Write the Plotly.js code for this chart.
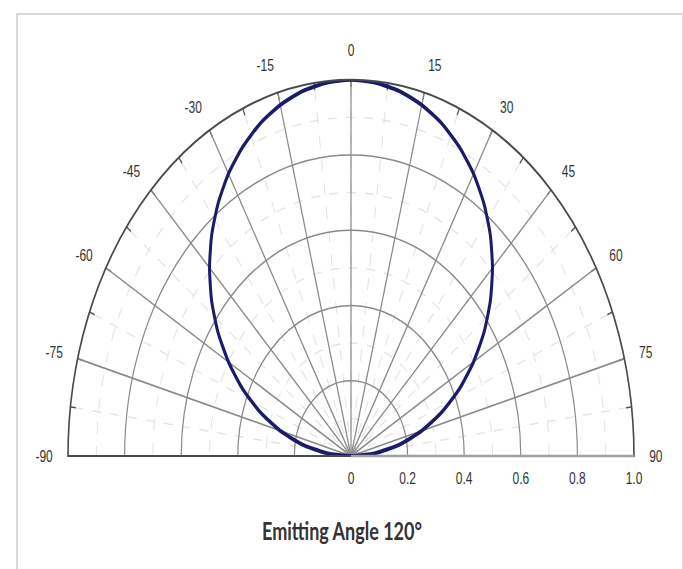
<!DOCTYPE html>
<html>
<head>
<meta charset="utf-8">
<script src="https://cdn.plot.ly/plotly-3.0.1.min.js"></script>
<style>
  html, body { margin:0; padding:0; background:#ffffff; overflow:hidden; width:683px; height:569px; }
  #wrap { position:absolute; left:0; top:0; width:683px; height:428px; transform:scaleY(1.3294); transform-origin:0 0; }
  #plot { width:683px; height:428px; }
  #frame { position:absolute; left:16px; top:13px; width:664px; height:570px; border:2px solid #d9d9d9; pointer-events:none; }
</style>
</head>
<body>
<div id="wrap"><div id="plot"></div></div>
<div id="frame"></div>
<script>
// Emission angle (degrees) and relative intensity
const emitAngle = [-90,-85,-80,-75,-70,-65,-60,-55,-50,-45,-40,-35,-30,-25,-20,-15,-10,-5,0,
                   5,10,15,20,25,30,35,40,45,50,55,60,65,70,75,80,85,90];
const relIntensity = [0,0.087,0.174,0.259,0.342,0.423,0.5,0.574,0.643,0.707,0.766,0.819,0.866,0.906,0.94,0.966,0.985,0.996,1.0,
                      0.996,0.985,0.966,0.94,0.906,0.866,0.819,0.766,0.707,0.643,0.574,0.5,0.423,0.342,0.259,0.174,0.087,0];

// Tick labels
const angleTicks = [-90,-75,-60,-45,-30,-15,0,15,30,45,60,75,90];
const angleTickText = ['-90','-75','-60','-45','-30','-15','0','15','30','45','60','75','90'];
const minorAngleTicks = [-90,-82.5,-75,-67.5,-60,-52.5,-45,-37.5,-30,-22.5,-15,-7.5,0,
                         7.5,15,22.5,30,37.5,45,52.5,60,67.5,75,82.5,90];
const radialTicks = [0,0.2,0.4,0.6,0.8,1.0];
const radialTickText = ['0','0.2','0.4','0.6','0.8','1.0'];
const minorRadialTicks = [0.1,0.3,0.5,0.7,0.9];
const chartTitle = 'Emitting Angle 120°';

const tickFont = {family:'Liberation Sans, Arial, sans-serif', size:12, color:'#333333'};
const dom = {x:[68/683, 634/683], y:[85/428, 368/428]};

const data = [
  {type:'scatterpolar', subplot:'polar', r:[0], theta:[0], mode:'markers',
   marker:{opacity:0, size:1}, hoverinfo:'skip', showlegend:false},
  {type:'scatterpolar', subplot:'polar2', r:relIntensity, theta:emitAngle, mode:'lines',
   line:{color:'#1b1b6a', width:3, shape:'spline', smoothing:0.6}, cliponaxis:false, hoverinfo:'skip', showlegend:false}
];

const layout = {
  width:683, height:428,
  margin:{l:0, r:0, t:0, b:0},
  paper_bgcolor:'#ffffff',
  showlegend:false,
  polar:{
    domain:dom, sector:[0,180], bgcolor:'#ffffff',
    angularaxis:{
      rotation:90, direction:'clockwise',
      tickmode:'array', tickvals:minorAngleTicks,
      ticks:'inside', ticklen:5, tickwidth:1.2, tickcolor:'#555555',
      showticklabels:false, showline:false,
      showgrid:true, gridcolor:'#e3e3e3', gridwidth:1, griddash:'dash'
    },
    radialaxis:{
      range:[0,1], angle:0,
      tickmode:'array', tickvals:minorRadialTicks,
      showticklabels:false, ticks:'', showline:false,
      showgrid:true, gridcolor:'#e3e3e3', gridwidth:1, griddash:'dash'
    }
  },
  polar2:{
    domain:dom, sector:[0,180], bgcolor:'rgba(0,0,0,0)',
    angularaxis:{
      rotation:90, direction:'clockwise',
      tickmode:'array', tickvals:angleTicks, ticktext:angleTickText,
      ticks:'outside', ticklen:12, tickcolor:'rgba(0,0,0,0)',
      tickfont:tickFont,
      showline:true, linecolor:'#4a4a4a', linewidth:1.6,
      showgrid:true, gridcolor:'#8a8a8a', gridwidth:1.2
    },
    radialaxis:{
      range:[0,1], angle:0, side:'clockwise',
      tickmode:'array', tickvals:radialTicks, ticktext:radialTickText,
      ticks:'outside', ticklen:6, tickcolor:'rgba(0,0,0,0)', tickangle:0,
      tickfont:tickFont,
      showline:true, linecolor:'#a0a0a0', linewidth:2,
      showgrid:true, gridcolor:'#8a8a8a', gridwidth:1.2
    }
  },
  annotations:[{
    text:'<b>'+chartTitle+'</b>', xref:'paper', yref:'paper', x:342/683, y:(428-398.5)/428,
    xanchor:'center', yanchor:'middle', showarrow:false,
    font:{family:'Lato, Open Sans, sans-serif', size:18, color:'#333333'}
  }]
};

Plotly.newPlot('plot', data, layout, {staticPlot:true, displayModeBar:false});
</script>
</body>
</html>
